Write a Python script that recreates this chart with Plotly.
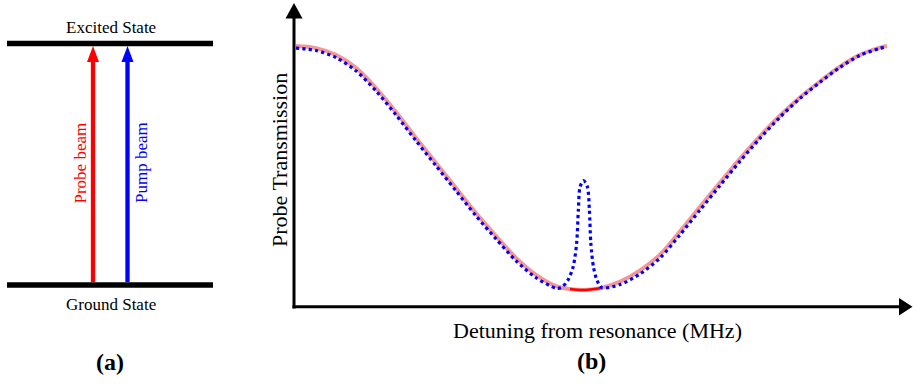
import plotly.graph_objects as go

W, H = 913, 389
SERIF = "Liberation Serif, Times New Roman, serif"

# ---- panel (b) data: probe transmission vs. detuning (arbitrary MHz units) ----
# probe only (Doppler-broadened absorption dip)
detuning_probe = [-99.0, -92.1, -85.2, -78.3, -71.4, -64.5, -57.6, -50.7, -43.8,
                  -36.9, -30.0, -23.1, -16.2, -9.3, -4.5, 0.0,
                  5.9, 12.8, 19.7, 26.6, 33.4, 40.3, 47.2, 54.1, 61.0,
                  67.9, 74.8, 81.7, 88.6, 95.5, 102.4, 104.8]
trans_probe = [1.000, 0.992, 0.966, 0.916, 0.839, 0.747, 0.648, 0.552, 0.456,
               0.360, 0.272, 0.188, 0.123, 0.080, 0.069, 0.065,
               0.072, 0.097, 0.140, 0.201, 0.289, 0.383, 0.476, 0.568, 0.654,
               0.733, 0.803, 0.864, 0.921, 0.966, 0.994, 1.000]

# probe with counter-propagating pump (saturated-absorption peak at resonance)
detuning_pump = [-99.0, -92.1, -85.2, -78.3, -71.4, -64.5, -57.6, -50.7, -43.8,
                 -36.9, -30.0, -23.1, -16.2, -9.3,
                 -7.5, -5.2, -3.4, -2.2, -1.6, -1.0, 0.2, 1.5, 2.2, 2.7, 3.6, 4.8, 6.5,
                 12.8, 19.7, 26.6, 33.4, 40.3, 47.2, 54.1, 61.0,
                 67.9, 74.8, 81.7, 88.6, 95.5, 102.4, 104.8]
trans_pump = [0.992, 0.983, 0.956, 0.905, 0.828, 0.736, 0.637, 0.541, 0.445,
              0.349, 0.261, 0.177, 0.112, 0.072,
              0.074, 0.103, 0.154, 0.244, 0.372, 0.461, 0.484, 0.461, 0.372, 0.244, 0.154, 0.103, 0.074,
              0.086, 0.127, 0.188, 0.276, 0.371, 0.465, 0.558, 0.646,
              0.727, 0.799, 0.861, 0.918, 0.964, 0.991, 0.997]

x_title = "Detuning from resonance (MHz)"
y_title = "Probe Transmission"
panel_tags = ["(a)", "(b)"]

# ---- panel (a) energy-level diagram labels ----
level_names = ["Excited State", "Ground State"]
beam_names = ["Probe beam", "Pump beam"]
beam_colors = ["red", "blue"]


def px(x):
    return x / W


def py(y):
    return 1 - y / H


fig = go.Figure()

fig.add_trace(go.Scatter(
    x=detuning_probe, y=trans_probe, mode="lines",
    line=dict(color="rgba(240,105,105,0.7)", width=4, shape="spline", smoothing=1.0),
    hoverinfo="skip", showlegend=False))

core = [i for i, d in enumerate(detuning_probe) if abs(d) <= 7.5]
fig.add_trace(go.Scatter(
    x=[detuning_probe[i] for i in core], y=[trans_probe[i] for i in core], mode="lines",
    line=dict(color="red", width=2.5, shape="spline"),
    hoverinfo="skip", showlegend=False))

fig.add_trace(go.Scatter(
    x=detuning_pump, y=trans_pump, mode="lines",
    line=dict(color="blue", width=3.2, dash="dot", shape="spline", smoothing=0.8),
    hoverinfo="skip", showlegend=False))

# plotting frame of panel (b): origin at (294, 307) px
x0_px, x1_px, y0_px, y1_px = 294, 912, 307, 3
px_per_mhz, px_per_unit = 2.9, 261.0
center_px = 583
fig.update_layout(
    xaxis=dict(domain=[px(x0_px), px(x1_px)],
               range=[-(center_px - x0_px) / px_per_mhz, (x1_px - center_px) / px_per_mhz],
               visible=False, fixedrange=True),
    yaxis=dict(domain=[py(y0_px), py(y1_px)],
               range=[0, (y0_px - y1_px) / px_per_unit],
               visible=False, fixedrange=True),
)

shapes = []
# axis lines with arrowheads
shapes.append(dict(type="line", xref="paper", yref="paper",
                   x0=px(294), y0=py(308.5), x1=px(294), y1=py(16),
                   line=dict(color="black", width=3)))
shapes.append(dict(type="path", xref="paper", yref="paper",
                   path=f"M{px(285.5)},{py(18.5)} L{px(302.5)},{py(18.5)} L{px(294)},{py(3)} Z",
                   fillcolor="black", line=dict(width=0)))
shapes.append(dict(type="line", xref="paper", yref="paper",
                   x0=px(292.5), y0=py(306.8), x1=px(901), y1=py(306.8),
                   line=dict(color="black", width=3)))
shapes.append(dict(type="path", xref="paper", yref="paper",
                   path=f"M{px(899)},{py(298)} L{px(899)},{py(315.5)} L{px(912.5)},{py(306.8)} Z",
                   fillcolor="black", line=dict(width=0)))

# energy levels
for ylev in (43.5, 285):
    shapes.append(dict(type="line", xref="paper", yref="paper",
                       x0=px(7), y0=py(ylev), x1=px(213), y1=py(ylev),
                       line=dict(color="black", width=5.5)))

# beam arrows
for xb, col in zip((93, 127.5), beam_colors):
    shapes.append(dict(type="line", xref="paper", yref="paper",
                       x0=px(xb), y0=py(282), x1=px(xb), y1=py(60),
                       line=dict(color=col, width=4.3)))
    shapes.append(dict(type="path", xref="paper", yref="paper",
                       path=f"M{px(xb - 6)},{py(62)} L{px(xb + 6)},{py(62)} L{px(xb)},{py(46)} Z",
                       fillcolor=col, line=dict(width=0)))

ann = []


def label(text, x, y, size, color="black", angle=0, bold=False):
    ann.append(dict(text=f"<b>{text}</b>" if bold else text,
                    x=px(x), y=py(y), xref="paper", yref="paper",
                    xanchor="center", yanchor="middle", showarrow=False,
                    textangle=angle, font=dict(family=SERIF, size=size, color=color)))


label(level_names[0], 110.5, 27, 17)
label(level_names[1], 110.5, 304, 17)
label(beam_names[0], 79.5, 163, 17, color=beam_colors[0], angle=-90)
label(beam_names[1], 141, 163, 17, color=beam_colors[1], angle=-90)
label(x_title, 597, 330, 22)
label(y_title, 279, 160, 22, angle=-90)
label(panel_tags[0], 110, 362, 24, bold=True)
label(panel_tags[1], 591, 361, 24, bold=True)

fig.update_layout(
    width=W, height=H,
    margin=dict(l=0, r=0, t=0, b=0),
    paper_bgcolor="white", plot_bgcolor="white",
    shapes=shapes, annotations=ann,
    showlegend=False,
)

fig.write_html("out.html", config={"displayModeBar": False})
